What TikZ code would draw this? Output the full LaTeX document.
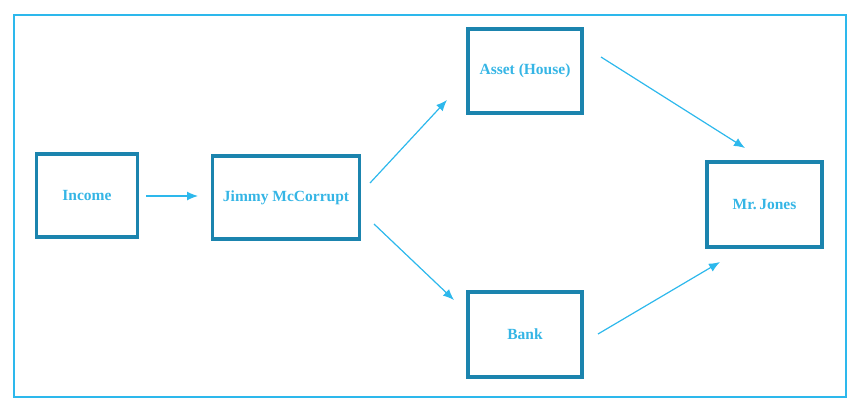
\documentclass[tikz,border=0pt]{standalone}
\usepackage{fontspec}
\setmainfont{Liberation Serif}
\usetikzlibrary{arrows.meta}
\definecolor{frameblue}{HTML}{2DB8EC}
\definecolor{boxblue}{HTML}{1B84AE}
\definecolor{textblue}{HTML}{35B5E5}
\begin{document}
\begin{tikzpicture}[x=1pt,y=-1pt,
  box/.style={draw=boxblue,line width=3.2pt,inner sep=0pt,font=\fontsize{15.5}{17}\selectfont\bfseries,text=textblue},
  conn/.style={draw=frameblue,line width=1.2pt,-{Latex[length=11pt,width=9pt]}}]
\useasboundingbox (0,0) rectangle (862,416);
\draw[frameblue,line width=2pt] (14,15) rectangle (846,397);
\node[box,minimum width=101pt,minimum height=83pt] (inc) at (87,195.5) {Income};
\node[box,minimum width=147pt,minimum height=83pt] (jim) at (286,197.5) {Jimmy McCorrupt};
\node[box,minimum width=114pt,minimum height=84pt] (ast) at (525,71) {Asset (House)};
\node[box,minimum width=114pt,minimum height=85pt] (bank) at (525,334.5) {Bank};
\node[box,minimum width=115pt,minimum height=85pt] (jon) at (764.5,204.5) {Mr.\,Jones};
\coordinate (a1) at (146,196); \coordinate (a2) at (198,196);
\coordinate (b1) at (370,183); \coordinate (b2) at (447,100);
\coordinate (c1) at (374,224); \coordinate (c2) at (454,300);
\coordinate (d1) at (601,57); \coordinate (d2) at (745,148);
\coordinate (e1) at (598,334); \coordinate (e2) at (720,262);
\draw[conn] (a1) -- (a2);
\draw[conn] (b1) -- (b2);
\draw[conn] (c1) -- (c2);
\draw[conn] (d1) -- (d2);
\draw[conn] (e1) -- (e2);
\end{tikzpicture}
\end{document}
